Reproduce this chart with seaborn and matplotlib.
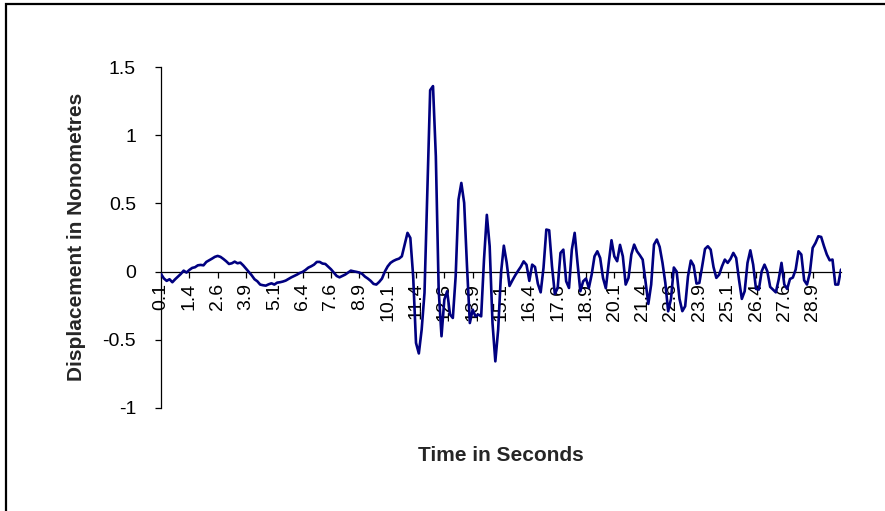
import numpy as np
import matplotlib
matplotlib.use("Agg")
import matplotlib.pyplot as plt
from matplotlib.patches import Rectangle
import seaborn as sns

# Category axis: time in seconds (every 0.125 s starting at 0.1)
n_points = 241
times = [round(0.1 + 0.125 * k, 3) for k in range(n_points)]

# Displacement values
displacement = [
    -0.017, -0.05, -0.068, -0.056, -0.078, -0.056, -0.037, -0.017, 0.007, -0.007,
    0.012, 0.027, 0.032, 0.046, 0.049, 0.046, 0.071, 0.083, 0.095, 0.108,
    0.115, 0.108, 0.093, 0.076, 0.056, 0.061, 0.073, 0.061, 0.066, 0.046,
    0.022, -0.002, -0.027, -0.056, -0.071, -0.095, -0.1, -0.103, -0.093, -0.086,
    -0.095, -0.081, -0.078, -0.073, -0.066, -0.054, -0.042, -0.032, -0.022, -0.01,
    -0.002, 0.012, 0.029, 0.039, 0.051, 0.071, 0.071, 0.059, 0.056, 0.037,
    0.017, -0.007, -0.032, -0.042, -0.032, -0.022, -0.007, 0.007, 0.002, -0.002,
    -0.007, -0.017, -0.037, -0.051, -0.068, -0.09, -0.095, -0.076, -0.051, 0.0,
    0.038, 0.064, 0.078, 0.088, 0.095, 0.112, 0.198, 0.284, 0.247, -0.034,
    -0.523, -0.6, -0.425, -0.156, 0.577, 1.33, 1.36, 0.846, -0.132, -0.474,
    -0.205, -0.144, -0.315, -0.34, -0.034, 0.528, 0.65, 0.504, 0.039, -0.377,
    -0.279, -0.328, -0.315, -0.328, 0.088, 0.416, 0.186, -0.377, -0.658, -0.425,
    -0.01, 0.19, 0.066, -0.105, -0.065, -0.028, 0.005, 0.036, 0.075, 0.05,
    -0.068, 0.051, 0.034, -0.088, -0.152, 0.027, 0.308, 0.303, 0.039, -0.164,
    -0.12, 0.137, 0.161, -0.071, -0.12, 0.161, 0.284, 0.064, -0.144, -0.071,
    -0.051, -0.12, -0.022, 0.112, 0.149, 0.1, -0.046, -0.122, 0.059, 0.23,
    0.112, 0.076, 0.196, 0.112, -0.095, -0.046, 0.125, 0.198, 0.149, 0.12,
    0.088, -0.071, -0.237, -0.095, 0.198, 0.235, 0.181, 0.064, -0.083, -0.291,
    -0.2, 0.03, 0.0, -0.2, -0.29, -0.254, -0.034, 0.081, 0.044, -0.088,
    -0.083, 0.039, 0.166, 0.186, 0.161, 0.034, -0.046, -0.022, 0.039, 0.088,
    0.064, 0.093, 0.137, 0.1, -0.059, -0.2, -0.144, 0.064, 0.156, 0.051,
    -0.127, -0.132, 0.002, 0.051, 0.002, -0.112, -0.132, -0.152, -0.059, 0.064,
    -0.095, -0.127, -0.054, -0.044, 0.015, 0.149, 0.125, -0.064, -0.095, -0.01,
    0.174, 0.21, 0.259, 0.254, 0.186, 0.125, 0.083, 0.088, -0.095, -0.095,
    0.015,
]

x_tick_labels = ["0.1", "1.4", "2.6", "3.9", "5.1", "6.4", "7.6", "8.9", "10.1",
                 "11.4", "12.6", "13.9", "15.1", "16.4", "17.6", "18.9", "20.1",
                 "21.4", "22.6", "23.9", "25.1", "26.4", "27.6", "28.9"]
y_ticks = [-1, -0.5, 0, 0.5, 1, 1.5]
y_tick_labels = ["-1", "-0.5", "0", "0.5", "1", "1.5"]

sns.set_style("white")
plt.rcParams["font.family"] = ["Liberation Sans", "DejaVu Sans"]

W, H = 885, 511
fig = plt.figure(figsize=(W / 100, H / 100), dpi=100)
fig.patch.set_facecolor("white")

left, right, top, bottom = 161, 841, 67, 408
ax = fig.add_axes([left / W, 1 - bottom / H, (right - left) / W, (bottom - top) / H])
ax.set_facecolor("white")

idx = np.arange(len(displacement))
sns.lineplot(x=idx, y=displacement, color="#000080", linewidth=1.9, ax=ax, zorder=3)
for ln in ax.get_lines():
    ln.set_solid_joinstyle("round")
    ln.set_solid_capstyle("round")

ax.set_xlim(0, len(displacement) - 1)
ax.set_ylim(-1, 1.5)

for s in ["top", "right"]:
    ax.spines[s].set_visible(False)
ax.spines["bottom"].set_position(("data", 0))
ax.spines["left"].set_color("black")
ax.spines["bottom"].set_color("black")
ax.spines["left"].set_linewidth(0.9)
ax.spines["bottom"].set_linewidth(0.9)

ax.set_xticks(np.arange(0, 240, 10))
ax.set_xticklabels(x_tick_labels, rotation=90)
ax.set_yticks(y_ticks)
ax.set_yticklabels(y_tick_labels)
ax.tick_params(axis="x", direction="out", length=4, width=0.9, pad=4,
               labelsize=14, colors="black", bottom=True)
ax.tick_params(axis="y", direction="out", length=4, width=0.9, pad=14,
               labelsize=14, colors="black", left=True)
ax.set_xlabel("")
ax.set_ylabel("")
ax.grid(False)

fig.text(501 / W, 1 - 455 / H, "Time in Seconds", ha="center", va="center",
         fontsize=15, fontweight="bold")
fig.text(77 / W, 1 - 237 / H, "Displacement in Nonometres", ha="center", va="center",
         rotation=90, fontsize=15, fontweight="bold")

border = Rectangle((6 / W, -0.05), 1.2, (1 - 4.5 / H) + 0.05, transform=fig.transFigure,
                   fill=False, edgecolor="black", linewidth=1.6)
fig.patches.append(border)

fig.savefig("out.png", dpi=100, facecolor="white")
